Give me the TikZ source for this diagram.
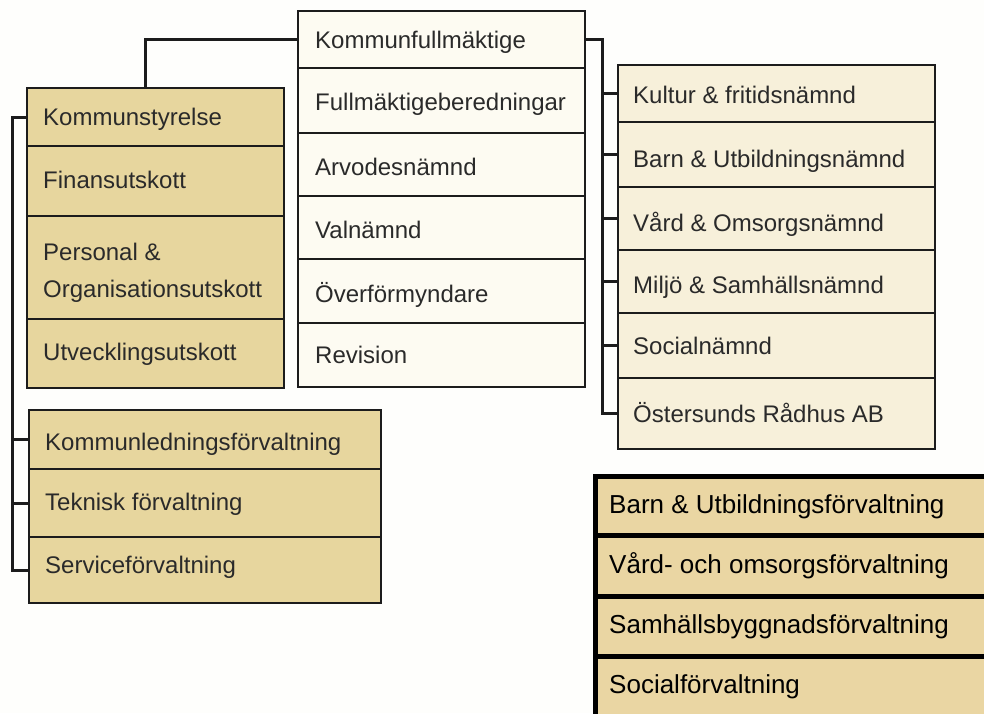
\documentclass[tikz,border=0pt]{standalone}
\usepackage{fontspec}
\setmainfont{Liberation Sans}
\definecolor{linec}{HTML}{1C1C1C}
\definecolor{txtc}{HTML}{2A2A2A}
\definecolor{tanfill}{HTML}{E7D69E}
\definecolor{creamfill}{HTML}{F7F0DA}
\definecolor{palefill}{HTML}{FDFBF2}
\definecolor{brfill}{HTML}{EAD6A3}
\definecolor{bgc}{HTML}{FEFEFC}
\begin{document}
\begin{tikzpicture}[x=1pt,y=-1pt,
  rowbase/.style={draw=linec, line width=2.2pt, inner sep=0pt, outer sep=0pt, anchor=north west},
  lrow/.style={rowbase, fill=tanfill, minimum width=257pt},
  mrow/.style={rowbase, fill=palefill, minimum width=287pt},
  rrow/.style={rowbase, fill=creamfill, minimum width=317pt},
  llrow/.style={rowbase, fill=tanfill, minimum width=352pt},
  brrow/.style={draw=black, line width=5pt, fill=brfill, inner sep=0pt, outer sep=0pt, anchor=north west, minimum width=420pt},
  lbl/.style={anchor=base west, inner sep=0pt, font=\fontsize{24}{28}\selectfont, text=txtc},
  brlbl/.style={anchor=base west, inner sep=0pt, font=\fontsize{26}{30}\selectfont, text=black},
  conn/.style={draw=linec, line width=3pt}
]
\useasboundingbox (0,0) rectangle (984,713);
\clip (0,0) rectangle (984,713);
\fill[bgc] (0,0) rectangle (984,713);

% middle column
\node[mrow, minimum height=57pt] (kf)   at (298,11)  {};
\node[mrow, minimum height=65pt] (fb)   at (298,68)  {};
\node[mrow, minimum height=63pt] (arv)  at (298,133) {};
\node[mrow, minimum height=63pt] (val)  at (298,196) {};
\node[mrow, minimum height=64pt] (ovf)  at (298,259) {};
\node[mrow, minimum height=64pt] (rev)  at (298,323) {};
\node[lbl] (kf-t)  at (315,48)  {Kommunfullmäktige};
\node[lbl] (fb-t)  at (315,110) {Fullmäktigeberedningar};
\node[lbl] (arv-t) at (315,175) {Arvodesnämnd};
\node[lbl] (val-t) at (315,238) {Valnämnd};
\node[lbl] (ovf-t) at (315,302) {Överförmyndare};
\node[lbl] (rev-t) at (315,363) {Revision};

% left upper column
\node[lrow, minimum height=58pt]  (ks)  at (27,88)  {};
\node[lrow, minimum height=70pt]  (fin) at (27,146) {};
\node[lrow, minimum height=103pt] (po)  at (27,216) {};
\node[lrow, minimum height=69pt]  (utv) at (27,319) {};
\node[lbl] (ks-t)  at (43,125) {Kommunstyrelse};
\node[lbl] (fin-t) at (43,188) {Finansutskott};
\node[lbl] (po-t1) at (43,260) {Personal \&};
\node[lbl] (po-t2) at (43,297) {Organisationsutskott};
\node[lbl] (utv-t) at (43,360) {Utvecklingsutskott};

% left lower column
\node[llrow, minimum height=59pt] (kled) at (29,410) {};
\node[llrow, minimum height=68pt] (tek)  at (29,469) {};
\node[llrow, minimum height=66pt] (serv) at (29,537) {};
\node[lbl] (kled-t) at (45,450) {Kommunledningsförvaltning};
\node[lbl] (tek-t)  at (45,510) {Teknisk förvaltning};
\node[lbl] (serv-t) at (45,573) {Serviceförvaltning};

% right column
\node[rrow, minimum height=57pt] (kult) at (618,65)  {};
\node[rrow, minimum height=65pt] (barn) at (618,122) {};
\node[rrow, minimum height=63pt] (vard) at (618,187) {};
\node[rrow, minimum height=63pt] (milj) at (618,250) {};
\node[rrow, minimum height=65pt] (soc)  at (618,313) {};
\node[rrow, minimum height=71pt] (ost)  at (618,378) {};
\node[lbl] (kult-t) at (633,103) {Kultur \& fritidsnämnd};
\node[lbl] (barn-t) at (633,167) {Barn \& Utbildningsnämnd};
\node[lbl] (vard-t) at (633,231) {Vård \& Omsorgsnämnd};
\node[lbl] (milj-t) at (633,293) {Miljö \& Samhällsnämnd};
\node[lbl] (soc-t)  at (633,354) {Socialnämnd};
\node[lbl] (ost-t)  at (633,422) {Östersunds Rådhus AB};

% bottom right block
\node[brrow, minimum height=59pt]  (bu)  at (595,476.5) {};
\node[brrow, minimum height=61pt]  (vo)  at (595,535.5) {};
\node[brrow, minimum height=60pt]  (sb)  at (595,596.5) {};
\node[brrow, minimum height=100pt] (sf)  at (595,656.5) {};
\node[brlbl] (bu-t) at (609,513) {Barn \& Utbildningsförvaltning};
\node[brlbl] (vo-t) at (609,573) {Vård- och omsorgsförvaltning};
\node[brlbl] (sb-t) at (609,633) {Samhällsbyggnadsförvaltning};
\node[brlbl] (sf-t) at (609,693) {Socialförvaltning};

% connectors
\draw[conn] ([xshift=118pt]ks.north west) |- (kf.west);
\coordinate (rb) at (602,39.5);
\draw[conn] (kf.east) -- (rb) |- (ost.west);
\foreach \n in {kult,barn,vard,milj,soc}
  \draw[conn] (rb |- \n.west) -- (\n.west);
\coordinate (lb) at (12,0);
\draw[conn] (ks.west) -- (lb |- ks.west) |- (serv.west);
\foreach \n in {kled,tek}
  \draw[conn] (lb |- \n.west) -- (\n.west);
\end{tikzpicture}
\end{document}
